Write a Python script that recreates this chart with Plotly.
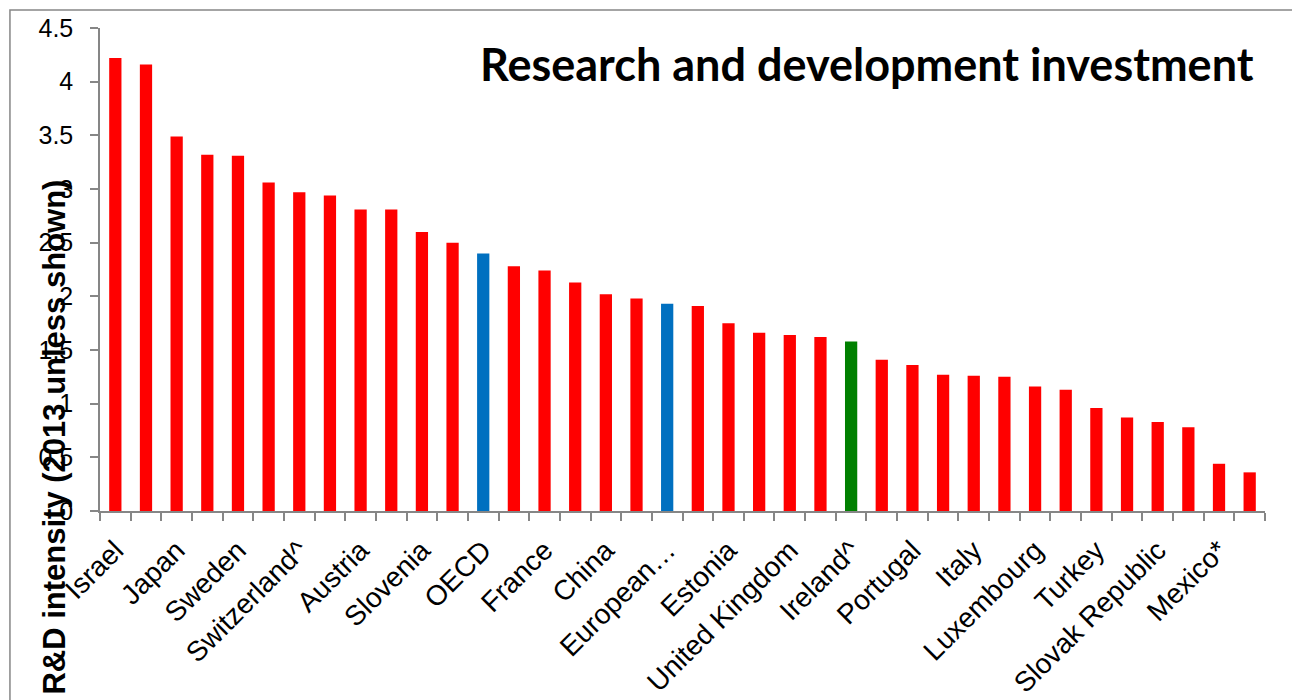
import plotly.graph_objects as go

categories = ["Israel", "Korea", "Japan", "Finland", "Sweden", "Denmark", "Switzerland^",
              "Germany", "Austria", "United States", "Slovenia", "Iceland", "OECD", "Belgium",
              "France", "Australia", "China", "Netherlands", "European Union", "Czech Republic",
              "Estonia", "Norway", "United Kingdom", "Canada", "Ireland^", "Hungary",
              "Portugal", "Spain", "Italy", "Russia", "Luxembourg", "New Zealand", "Turkey",
              "Poland", "Slovak Republic", "Greece", "Mexico*", "Chile"]
values = [4.22, 4.16, 3.49, 3.32, 3.31, 3.06, 2.97, 2.94, 2.81, 2.81, 2.60, 2.50, 2.40,
          2.28, 2.24, 2.13, 2.02, 1.98, 1.93, 1.91, 1.75, 1.66, 1.64, 1.62, 1.58, 1.41,
          1.36, 1.27, 1.26, 1.25, 1.16, 1.13, 0.96, 0.87, 0.83, 0.78, 0.44, 0.36]
highlight = {"OECD": "#0070C0", "European Union": "#0070C0", "Ireland^": "#008000"}
tick_labels = ["Israel", "", "Japan", "", "Sweden", "", "Switzerland^", "", "Austria", "",
               "Slovenia", "", "OECD", "", "France", "", "China", "", "European…", "",
               "Estonia", "", "United Kingdom", "", "Ireland^", "", "Portugal", "", "Italy", "",
               "Luxembourg", "", "Turkey", "", "Slovak Republic", "", "Mexico*", ""]
y_ticks = [0, 0.5, 1, 1.5, 2, 2.5, 3, 3.5, 4, 4.5]
y_tick_text = ["0", "0.5", "1", "1.5", "2", "2.5", "3", "3.5", "4", "4.5"]

colors = [highlight.get(c, "#FF0000") for c in categories]

fig = go.Figure(go.Bar(x=categories, y=values, marker=dict(color=colors, line=dict(width=0)),
                       showlegend=False))

axis_grey = "#868686"
fig.update_layout(
    width=1300, height=700,
    margin=dict(l=92, r=43, t=20, b=197, autoexpand=False),
    paper_bgcolor="white", plot_bgcolor="white",
    bargap=0.6,
    font=dict(family="Liberation Sans, Arial, sans-serif", color="black"),
    xaxis=dict(
        type="category", tickmode="array", tickvals=categories, ticktext=tick_labels,
        tickangle=-45, tickfont=dict(size=28, family="Liberation Sans, Arial"),
        ticklabelstandoff=10,
        showline=True, linecolor=axis_grey, linewidth=1.5,
        ticks="outside", tickson="boundaries", ticklen=8, tickcolor=axis_grey, tickwidth=1.5,
        showgrid=False, range=[-0.5, len(categories) - 0.5], fixedrange=True,
    ),
    yaxis=dict(
        range=[0, 4.5], tickmode="array", tickvals=y_ticks, ticktext=y_tick_text,
        tickfont=dict(size=25, family="Liberation Sans, Arial"),
        ticklabelstandoff=12,
        showline=True, linecolor=axis_grey, linewidth=1.5,
        ticks="outside", ticklen=8, tickcolor=axis_grey, tickwidth=1.5,
        showgrid=False, zeroline=False, fixedrange=True,
    ),
    annotations=[
        dict(text="<b>Research and development investment</b>", xref="paper", yref="paper",
             x=0.992, y=1.0, xanchor="right", yanchor="middle", yshift=-35.5, showarrow=False,
             font=dict(size=45, family="Lato, Open Sans, sans-serif", color="black")),
        dict(text="<b>R&D intensity (2013 unless shown)</b>", xref="paper", yref="paper",
             x=-0.0386, y=0.152, xanchor="center", yanchor="middle", textangle=-90,
             showarrow=False,
             font=dict(size=31, family="Liberation Sans, Arial", color="black")),
    ],
    shapes=[
        dict(type="rect", xref="paper", yref="paper", x0=-0.0773, x1=1.0258, y0=-0.6, y1=1.0373,
             line=dict(color=axis_grey, width=1.5), fillcolor="rgba(0,0,0,0)", layer="below"),
    ],
)

fig.write_html("out.html")
